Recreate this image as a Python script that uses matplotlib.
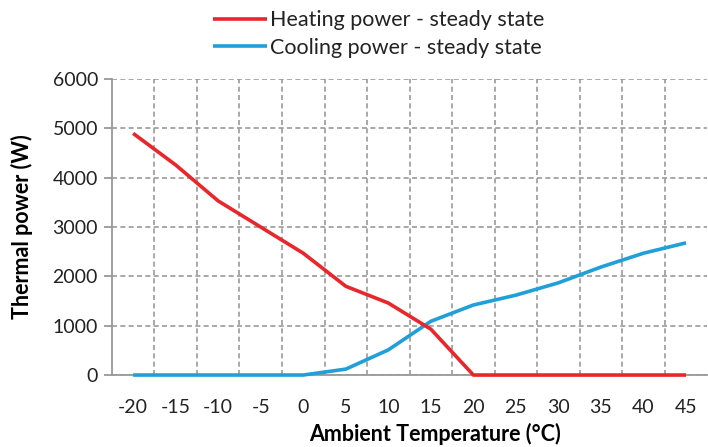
import numpy as np
import matplotlib.pyplot as plt

plt.rcParams['font.family'] = ['Lato', 'DejaVu Sans']

temps = ['-20', '-15', '-10', '-5', '0', '5', '10', '15', '20', '25', '30', '35', '40', '45']
heating = [4900, 4260, 3530, 3000, 2470, 1800, 1460, 930, 0, 0, 0, 0, 0, 0]
cooling = [0, 0, 0, 0, 0, 120, 510, 1090, 1420, 1620, 1870, 2190, 2470, 2680]

x = np.arange(len(temps))

fig = plt.figure(figsize=(7.08, 4.47), dpi=100)
ax = fig.add_axes([0.158, 0.161, 0.841, 0.662])

ax.plot(x, heating, color='#e8262b', lw=2.6, label='Heating power - steady state',
        solid_capstyle='butt', clip_on=False, zorder=4)
ax.plot(x, cooling, color='#1fa0d8', lw=2.6, label='Cooling power - steady state',
        solid_capstyle='butt', clip_on=False, zorder=3)

ax.set_xlim(-0.5, len(temps) - 0.5)
ax.set_ylim(0, 6000)
ax.set_yticks(range(0, 6001, 1000))
ax.set_xticks(x)
ax.set_xticklabels(temps)
ax.set_xticks(np.arange(0.5, len(temps) - 1, 1), minor=True)

ax.grid(True, which='minor', axis='x', color='#999999', linestyle=(0, (3, 2)), lw=1.2)
ax.grid(True, which='major', axis='y', color='#999999', linestyle=(0, (3, 2)), lw=1.2)
ax.set_axisbelow(True)

for s in ['top', 'right']:
    ax.spines[s].set_visible(False)
for s in ['left', 'bottom']:
    ax.spines[s].set_color('#999999')
    ax.spines[s].set_linewidth(1.3)

ax.tick_params(axis='x', which='both', length=0, labelsize=14, pad=17, colors='#222222')
ax.tick_params(axis='y', length=6, width=1.3, color='#999999', labelsize=14, labelcolor='#222222', pad=4)

ax.set_ylabel('Thermal power (W)', fontsize=15.5, fontweight='bold', labelpad=14)
fig.text(0.615, 0.005, 'Ambient Temperature (°C)', fontsize=15.5, fontweight='bold',
         ha='center', va='bottom')

leg = fig.legend(loc='upper center', bbox_to_anchor=(0.535, 1.02), frameon=False, fontsize=15.5,
                 handlelength=2.5, handletextpad=0.15, labelspacing=0.35)
for t in leg.get_texts():
    t.set_color('#222222')

fig.savefig('out.png', dpi=100)
